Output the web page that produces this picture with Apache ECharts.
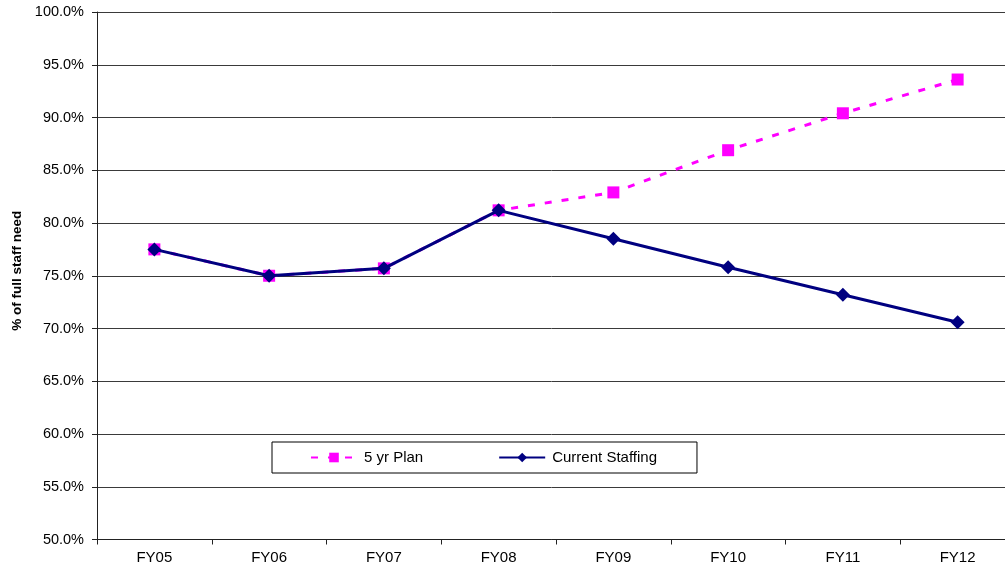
<!DOCTYPE html>
<html>
<head>
<meta charset="utf-8">
<style>
  html, body { margin: 0; padding: 0; background: #fff; }
  #chart { width: 1005px; height: 573px; }
</style>
<script src="https://cdn.jsdelivr.net/npm/echarts@6/dist/echarts.min.js"></script>
</head>
<body>
<div id="chart"></div>
<script>
// Fiscal years on the category axis
const years = ['FY05', 'FY06', 'FY07', 'FY08', 'FY09', 'FY10', 'FY11', 'FY12'];
// Staffing as % of full staff need
const planValues = [77.5, 75.0, 75.7, 81.2, 82.9, 86.9, 90.4, 93.6];
const currentValues = [77.5, 75.0, 75.7, 81.2, 78.5, 75.8, 73.2, 70.6];
const seriesNames = ['5 yr Plan', 'Current Staffing'];
const yAxisTitle = '% of full staff need';

const font = 'Arial, "Liberation Sans", sans-serif';
const chart = echarts.init(document.getElementById('chart'), null, { renderer: 'canvas' });

chart.setOption({
  animation: false,
  backgroundColor: '#ffffff',
  textStyle: { fontFamily: font },
  grid: {
    left: 97, top: 12, width: 918, bottom: 33.5,
    containLabel: false,
    outerBoundsMode: 'none'
  },
  legend: {
    left: 272,
    top: 442,
    orient: 'horizontal',
    padding: [8, 40, 8, 38],
    itemGap: 75,
    itemWidth: 46,
    itemHeight: 12,
    borderColor: '#000',
    borderWidth: 1,
    textStyle: { fontFamily: font, fontSize: 15, color: '#000', padding: [0, 0, 0, 2] },
    data: seriesNames
  },
  xAxis: {
    type: 'category',
    data: years,
    boundaryGap: true,
    axisLine: { lineStyle: { color: '#222', width: 1 } },
    axisTick: { show: true, length: 5, alignWithLabel: false, interval: 0, lineStyle: { color: '#222' } },
    axisLabel: { color: '#000', fontSize: 15, fontFamily: font, margin: 11, interval: 0 },
    splitLine: { show: false }
  },
  yAxis: {
    type: 'value',
    min: 50,
    max: 100,
    interval: 5,
    name: yAxisTitle,
    nameLocation: 'middle',
    nameRotate: 90,
    nameGap: 72,
    nameTextStyle: { fontFamily: font, fontSize: 13.5, fontWeight: 'bold', color: '#000', padding: [0, 0, 0, 10] },
    axisLine: { show: true, lineStyle: { color: '#222', width: 1 } },
    axisTick: { show: true, length: 5, lineStyle: { color: '#222' } },
    axisLabel: {
      color: '#000', fontSize: 14.5, fontFamily: font, margin: 13,
      formatter: v => v.toFixed(1) + '%'
    },
    splitLine: { show: true, lineStyle: { color: '#3a3a3a', width: 1 } }
  },
  series: [
    {
      name: seriesNames[0],
      type: 'line',
      data: planValues,
      symbol: 'rect',
      symbolSize: 12,
      itemStyle: { color: '#ff00ff' },
      lineStyle: { color: '#ff00ff', width: 3, type: [7, 10] },
      z: 2
    },
    {
      name: seriesNames[1],
      type: 'line',
      data: currentValues,
      symbol: 'diamond',
      symbolSize: 14,
      itemStyle: { color: '#000080' },
      lineStyle: { color: '#000080', width: 3 },
      z: 3
    }
  ]
});
</script>
</body>
</html>
